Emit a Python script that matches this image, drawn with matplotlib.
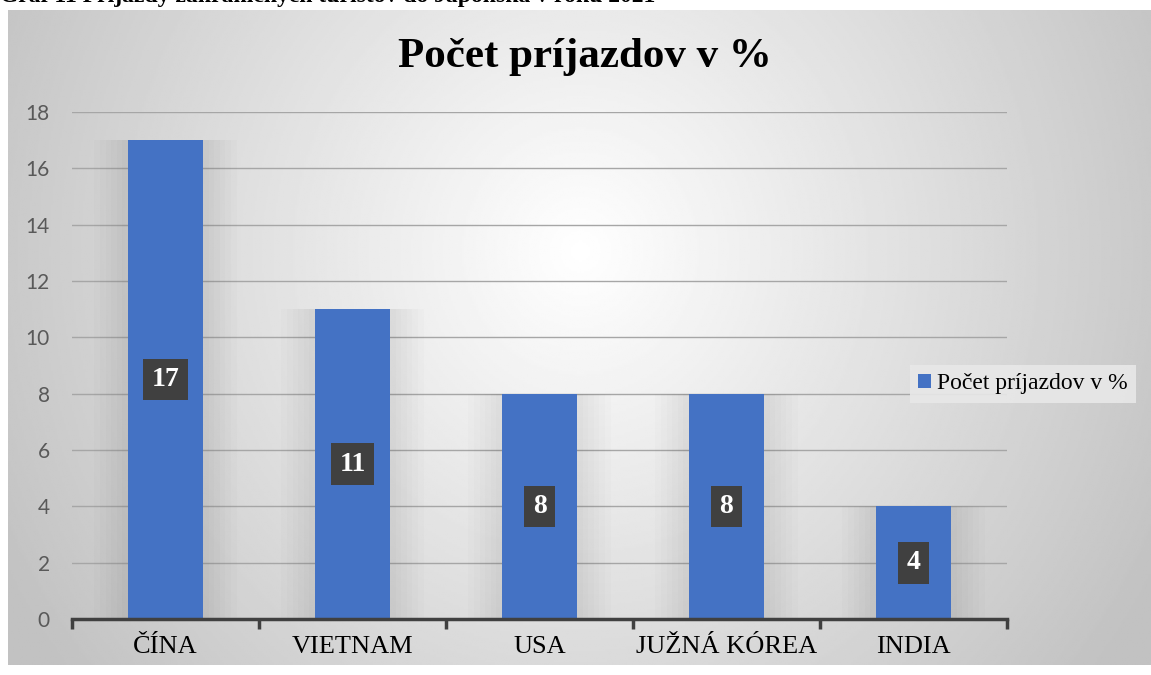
import numpy as np
import matplotlib.pyplot as plt
from matplotlib.patches import Rectangle

# data
countries = ["ČÍNA", "VIETNAM", "USA", "JUŽNÁ KÓREA", "INDIA"]
values = [17, 11, 8, 8, 4]
series_name = "Počet príjazdov v %"

W, H = 1151, 675
fig = plt.figure(figsize=(W / 100, H / 100), dpi=100)
fig.patch.set_facecolor("white")

# background of the chart area: radial gray gradient
bg = fig.add_axes([8 / W, (H - 665) / H, (W - 8) / W, 655 / H])
yy, xx = np.mgrid[0:300, 0:600]
cx, cy = 300, 110
r = np.sqrt(((xx - cx) / 600) ** 2 + ((yy - cy) / 300) ** 2 * 0.3)
shade = np.clip(1.0 - r * 0.42, 0.76, 1.0)
bg.imshow(shade, cmap="gray", vmin=0, vmax=1, aspect="auto",
          extent=[0, 1, 0, 1], origin="upper")
bg.set_axis_off()

# heading partly cut off at the top
fig.text(0.0, 1.0 + 14 / H,
         "Graf 11 Príjazdy zahraničných turistov do Japonska v roku 2021",
         family="Liberation Serif", fontweight="bold", fontsize=17,
         va="top", ha="left")

ax = fig.add_axes([72 / W, (H - 619) / H, (1007 - 72) / W, (619 - 112) / H])
ax.patch.set_alpha(0)
x = np.arange(len(countries))

# soft shadow behind bars
for xi, v in zip(x, values):
    for k in range(6):
        off = 0.03 * (k + 1)
        ax.add_patch(Rectangle((xi - 0.2 - off, 0), 0.4 + 2 * off, v,
                               color="black", alpha=0.012, lw=0, zorder=1.5))

ax.bar(x, values, width=0.4, color="#4472C4", zorder=2, label=series_name)

for xi, v in zip(x, values):
    ax.text(xi, v / 2, str(v), ha="center", va="center", color="white",
            family="Liberation Serif", fontweight="bold", fontsize=20, zorder=4,
            bbox=dict(boxstyle="square,pad=0.3", fc="#404040", ec="none"))

ax.set_xlim(-0.5, len(countries) - 0.5)
ax.set_ylim(0, 18)
ax.set_yticks(range(0, 19, 2))
ax.yaxis.grid(True, color="#a6a6a6", lw=1)
ax.set_axisbelow(True)
for s in ["top", "right", "left"]:
    ax.spines[s].set_visible(False)
ax.spines["bottom"].set_color("#404040")
ax.spines["bottom"].set_linewidth(2.5)
ax.tick_params(axis="y", length=0, pad=16, labelcolor="#595959", labelsize=15)
for lab in ax.get_yticklabels():
    lab.set_family("Lato")

ax.set_xticks(np.arange(-0.5, len(countries), 1))
ax.set_xticklabels([""] * (len(countries) + 1))
ax.tick_params(axis="x", which="major", length=7, width=2.5, color="#404040")
ax.set_xticks(x, minor=True)
ax.set_xticklabels(countries, minor=True, family="Liberation Serif", fontsize=19)
ax.tick_params(axis="x", which="minor", length=0, pad=12)

fig.text(585 / W, 1 - 57 / H, series_name, ha="center", va="center",
         family="Liberation Serif", fontweight="bold", fontsize=31)

leg = ax.legend(loc="center left", bbox_to_anchor=(898 / W, 1 - 384 / H),
                bbox_transform=fig.transFigure, frameon=True,
                prop={"family": "Liberation Serif", "size": 17},
                handlelength=0.55, handleheight=0.55, handletextpad=0.25,
                borderpad=0.35, fancybox=False)
leg.get_frame().set_facecolor("#e8e8e8")
leg.get_frame().set_edgecolor("none")
leg.get_frame().set_alpha(0.9)

fig.savefig("out.png", dpi=100)
